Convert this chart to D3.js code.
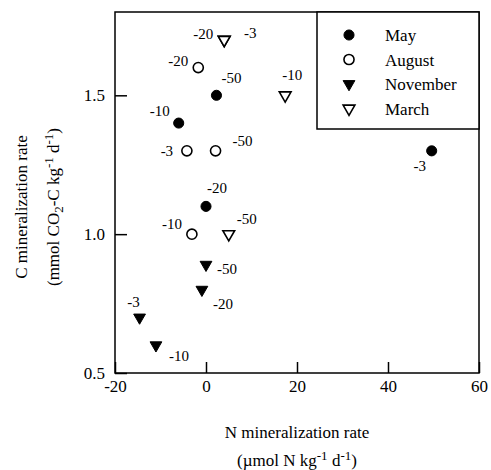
<!DOCTYPE html>
<html>
<head>
<meta charset="utf-8">
<script src="https://cdn.jsdelivr.net/npm/d3@7"></script>
<style>
  body { margin: 0; background: #fff; }
</style>
</head>
<body>
<div id="plot"></div>
<script>
const w = 491;
const h = 470;
const margin = { top: 12, right: 12, bottom: 97, left: 115 };
const innerWidth = w - margin.left - margin.right;
const innerHeight = h - margin.top - margin.bottom;

// series: N rate, C rate, treatment label
const seriesNames = ["May", "August", "November", "March"];

const mayN = [2.3, -6, 0, 49.6];
const mayC = [1.5, 1.4, 1.1, 1.3];
const mayLbl = ["-50", "-10", "-20", "-3"];

const augN = [-1.7, -4.2, 2.1, -3.1];
const augC = [1.6, 1.3, 1.3, 1.0];
const augLbl = ["-20", "-3", "-50", "-10"];

const novN = [0, -0.9, -14.6, -11];
const novC = [0.89, 0.8, 0.7, 0.6];
const novLbl = ["-50", "-20", "-3", "-10"];

const marN = [4, 4, 17.4, 5];
const marC = [1.7, 1.7, 1.5, 1.0];
const marLbl = ["-20", "-3", "-10", "-50"];

const xTicks = [-20, 0, 20, 40, 60];
const yTicks = [0.5, 1.0, 1.5];

// label placement around each point (px), same order as the series
const mayOff = [[15, -17], [-19, -12], [11, -18], [-12, 15]];
const augOff = [[-20, -7], [-20, 0], [27, -10], [-20, -10]];
const novOff = [[21, 4], [21, 14], [-6, -15], [23, 11]];
const marOff = [[-21, -6], [26, -7], [7, -20], [18, -15]];

const series = [
  { name: seriesNames[0], n: mayN, c: mayC, lbl: mayLbl, off: mayOff, shape: "circle", filled: true },
  { name: seriesNames[1], n: augN, c: augC, lbl: augLbl, off: augOff, shape: "circle", filled: false },
  { name: seriesNames[2], n: novN, c: novC, lbl: novLbl, off: novOff, shape: "tri", filled: true },
  { name: seriesNames[3], n: marN, c: marC, lbl: marLbl, off: marOff, shape: "tri", filled: false },
];

const svg = d3.select("div#plot")
  .append("svg")
  .attr("width", w)
  .attr("height", h)
  .attr("font-family", "Liberation Serif, serif");

const xScale = d3.scaleLinear().domain([-20, 60]).range([0, innerWidth]);
const yScale = d3.scaleLinear().domain([0.5, 1.8]).range([innerHeight, 0]);

const plotGroup = svg.append("g")
  .attr("transform", `translate(${margin.left}, ${margin.top})`);

const xAxis = d3.axisBottom(xScale).tickValues(xTicks).tickFormat(d => String(d))
  .tickSizeInner(-11).tickSizeOuter(0).tickPadding(7);
const yAxis = d3.axisLeft(yScale).tickValues(yTicks).tickFormat(d => d.toFixed(1))
  .tickSizeInner(-12).tickSizeOuter(0).tickPadding(10);

const gx = plotGroup.append("g")
  .attr("transform", `translate(0, ${innerHeight})`)
  .call(xAxis);
const gy = plotGroup.append("g").call(yAxis);

[gx, gy].forEach(g => {
  g.attr("font-family", "Liberation Serif, serif").attr("font-size", 17);
  g.select(".domain").remove();
  g.selectAll("line").attr("stroke", "#000").attr("stroke-width", 1.5);
  g.selectAll("text").attr("fill", "#000");
});

plotGroup.append("rect")
  .attr("x", 0).attr("y", 0)
  .attr("width", innerWidth).attr("height", innerHeight)
  .attr("fill", "none").attr("stroke", "#000").attr("stroke-width", 1.5);

const circleSym = d3.symbol().type(d3.symbolCircle).size(80);
const triSym = d3.symbol().type(d3.symbolTriangle).size(60);

function drawMarker(g, s, x, y) {
  g.append("path")
    .attr("d", s.shape === "circle" ? circleSym() : triSym())
    .attr("transform", s.shape === "circle"
      ? `translate(${x},${y})`
      : `translate(${x},${y}) rotate(180)`)
    .attr("fill", s.filled ? "#000" : "#fff")
    .attr("stroke", "#000")
    .attr("stroke-width", s.filled ? 1 : 1.6);
}

series.forEach(s => {
  s.n.forEach((nv, i) => {
    const x = xScale(nv);
    const y = yScale(s.c[i]);
    drawMarker(plotGroup, s, x, y);
    plotGroup.append("text")
      .attr("x", x + s.off[i][0])
      .attr("y", y + s.off[i][1] + 5)
      .attr("text-anchor", "middle")
      .attr("font-size", 15)
      .text(s.lbl[i]);
  });
});

// legend
const legend = plotGroup.append("g")
  .attr("transform", `translate(${innerWidth - 162}, 0)`);
legend.append("rect")
  .attr("width", 162).attr("height", 117)
  .attr("fill", "#fff").attr("stroke", "#000").attr("stroke-width", 1.5);
series.forEach((s, i) => {
  const y = 23 + i * 24.5;
  drawMarker(legend, s, 32, y);
  legend.append("text")
    .attr("x", 68).attr("y", y + 6)
    .attr("font-size", 17)
    .text(s.name);
});

// axis titles
const cx = margin.left + innerWidth / 2;
const xt = svg.append("text")
  .attr("x", cx).attr("y", 438)
  .attr("text-anchor", "middle")
  .attr("font-size", 17)
  .text("N mineralization rate");
const xt2 = svg.append("text")
  .attr("x", cx).attr("y", 466)
  .attr("text-anchor", "middle")
  .attr("font-size", 17);
xt2.append("tspan").text("(\u00b5mol N kg");
xt2.append("tspan").attr("dy", -6).attr("font-size", 13).text("-1");
xt2.append("tspan").attr("dy", 6).text(" d");
xt2.append("tspan").attr("dy", -6).attr("font-size", 13).text("-1");
xt2.append("tspan").attr("dy", 6).text(")");

const yc = 207;
svg.append("text")
  .attr("transform", `translate(27, ${yc}) rotate(-90)`)
  .attr("text-anchor", "middle")
  .attr("font-size", 17)
  .text("C mineralization rate");
const yt2 = svg.append("text")
  .attr("transform", `translate(59, ${yc}) rotate(-90)`)
  .attr("text-anchor", "middle")
  .attr("font-size", 17);
yt2.append("tspan").text("(mmol CO");
yt2.append("tspan").attr("dy", 4).attr("font-size", 13).text("2");
yt2.append("tspan").attr("dy", -4).text("-C kg");
yt2.append("tspan").attr("dy", -6).attr("font-size", 13).text("-1");
yt2.append("tspan").attr("dy", 6).text(" d");
yt2.append("tspan").attr("dy", -6).attr("font-size", 13).text("-1");
yt2.append("tspan").attr("dy", 6).text(")");
</script>
</body>
</html>
